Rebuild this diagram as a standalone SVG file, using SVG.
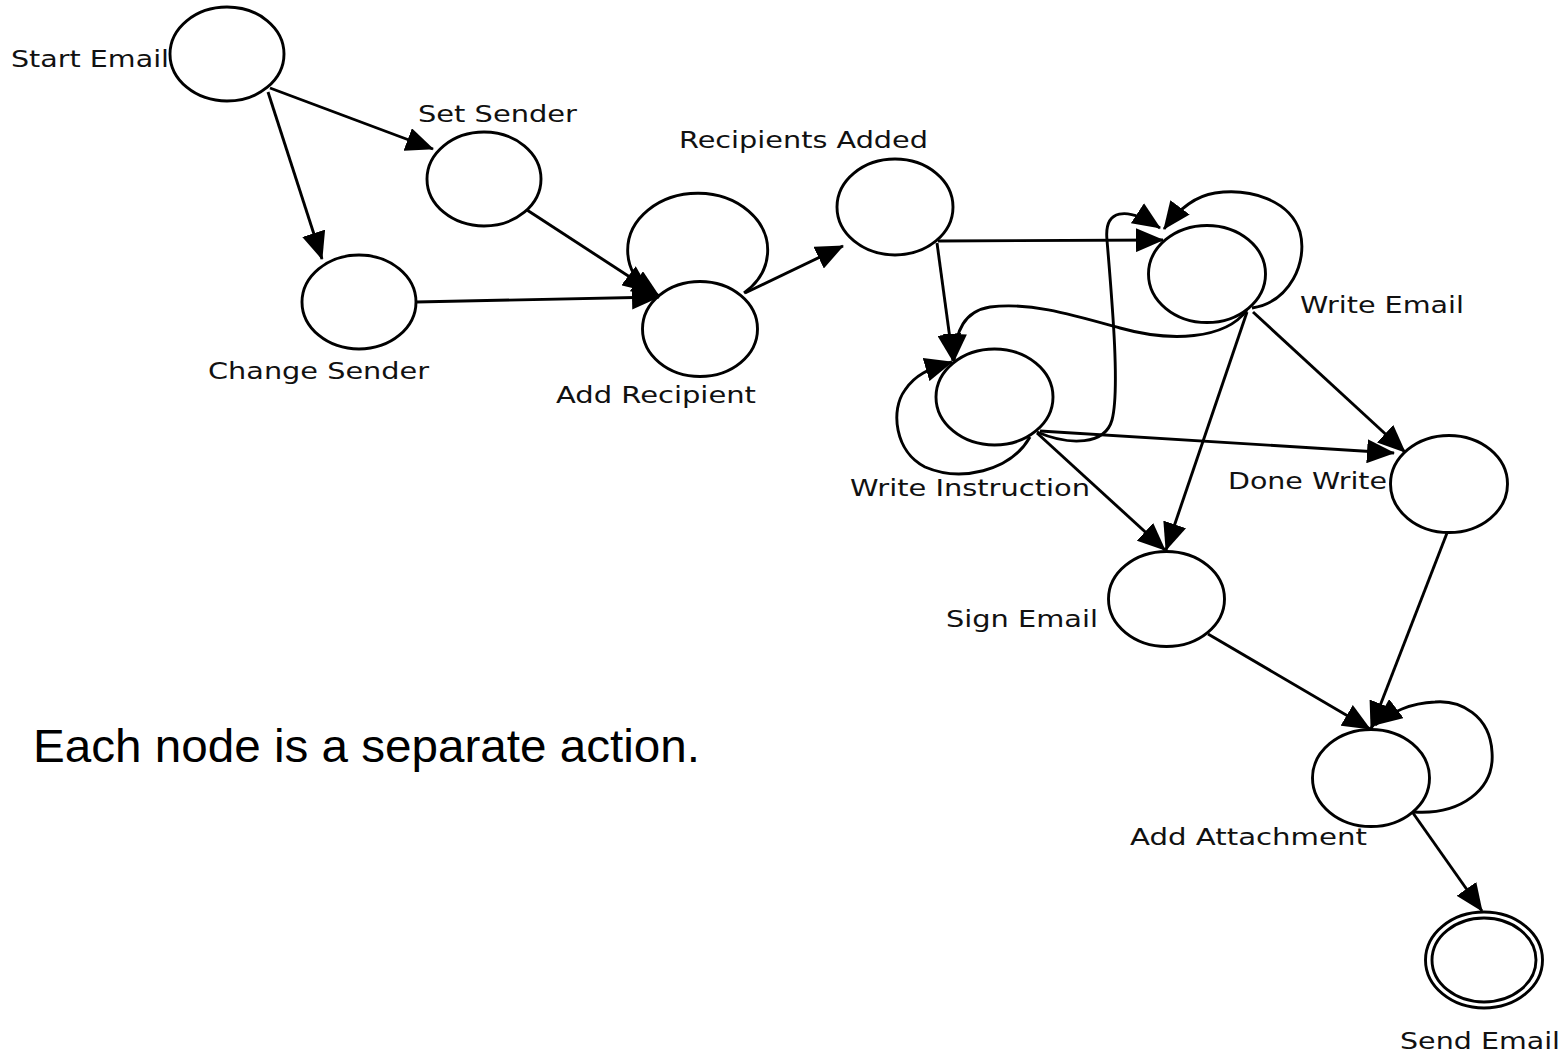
<svg xmlns="http://www.w3.org/2000/svg" width="1568" height="1052" viewBox="0 0 1568 1052">
  <defs>
    <style>
      .state { fill: #ffffff; stroke: #000000; stroke-width: 2.9; }
      .label { font-family: "DejaVu Sans", Verdana, sans-serif; font-size: 23px; fill: #111111; }
      .note { font-family: "Liberation Sans", Arial, Helvetica, sans-serif; font-size: 46px; fill: #000000; }
      .edge { fill: none; stroke: #000000; stroke-width: 2.9; marker-end: url(#head); }
    </style>
    <marker id="head" markerUnits="userSpaceOnUse" markerWidth="30" markerHeight="24" refX="27" refY="12" orient="auto">
      <path d="M0,0 L28,12 L0,24 Z" fill="#000000"/>
    </marker>
  </defs>
  <rect width="1568" height="1052" fill="#ffffff"/>

  <!-- states -->
  <g id="start-email">
    <ellipse class="state" cx="227" cy="54" rx="57" ry="47"/>
    <text class="label" x="11" y="67" textLength="158" lengthAdjust="spacingAndGlyphs">Start Email</text>
  </g>
  <g id="set-sender">
    <ellipse class="state" cx="484" cy="179" rx="57" ry="47"/>
    <text class="label" x="418" y="122" textLength="159" lengthAdjust="spacingAndGlyphs">Set Sender</text>
  </g>
  <g id="change-sender">
    <ellipse class="state" cx="359" cy="302" rx="57" ry="47"/>
    <text class="label" x="208" y="379" textLength="221" lengthAdjust="spacingAndGlyphs">Change Sender</text>
  </g>
  <g id="add-recipient">
    <ellipse class="state" cx="700" cy="329" rx="57.5" ry="47.5"/>
    <text class="label" x="556" y="403" textLength="200" lengthAdjust="spacingAndGlyphs">Add Recipient</text>
  </g>
  <g id="recipients-added">
    <ellipse class="state" cx="895" cy="207" rx="58" ry="48"/>
    <text class="label" x="679" y="148" textLength="249" lengthAdjust="spacingAndGlyphs">Recipients Added</text>
  </g>
  <g id="write-email">
    <ellipse class="state" cx="1207" cy="274" rx="58.5" ry="48.5"/>
    <text class="label" x="1300" y="313" textLength="164" lengthAdjust="spacingAndGlyphs">Write Email</text>
  </g>
  <g id="write-instruction">
    <ellipse class="state" cx="994.5" cy="397" rx="58.5" ry="48"/>
    <text class="label" x="850" y="496" textLength="240" lengthAdjust="spacingAndGlyphs">Write Instruction</text>
  </g>
  <g id="done-write">
    <ellipse class="state" cx="1449" cy="484" rx="58.5" ry="48.5"/>
    <text class="label" x="1228" y="489" textLength="159" lengthAdjust="spacingAndGlyphs">Done Write</text>
  </g>
  <g id="sign-email">
    <ellipse class="state" cx="1166.5" cy="599" rx="58" ry="47.5"/>
    <text class="label" x="946" y="627" textLength="152" lengthAdjust="spacingAndGlyphs">Sign Email</text>
  </g>
  <g id="add-attachment">
    <ellipse class="state" cx="1371" cy="778" rx="58.5" ry="48.5"/>
    <text class="label" x="1130" y="845" textLength="237" lengthAdjust="spacingAndGlyphs">Add Attachment</text>
  </g>
  <g id="send-email">
    <ellipse class="state" cx="1484" cy="960" rx="58.5" ry="48"/>
    <ellipse class="state" cx="1484" cy="960" rx="52" ry="42"/>
    <text class="label" x="1400" y="1049" textLength="160" lengthAdjust="spacingAndGlyphs">Send Email</text>
  </g>

  <!-- transitions -->
  <g id="connectors">
    <path class="edge" d="M270,88 L433,149"/>
    <path class="edge" d="M268,92 L322,259"/>
    <path class="edge" d="M527,210 L659,296"/>
    <path class="edge" d="M416,302 L659,297"/>
    <path class="edge" d="M744,293 A70,57 0 1 0 650,292"/>
    <path class="edge" d="M745,293 L843,246"/>
    <path class="edge" d="M938,241 L1163,240"/>
    <path class="edge" d="M937,243 L953,361"/>
    <path class="edge" d="M1247,310 C1225,340 1170,342 1120,328 C1070,314 1030,302 990,307 C965,311 955,330 954,361"/>
    <path class="edge" d="M1037,432 C1070,446 1105,445 1112,420 C1120,390 1112,300 1107,240 C1104,210 1125,205 1160,228"/>
    <path class="edge" d="M1252,308 C1290,302 1308,262 1300,232 C1290,200 1250,188 1215,193 C1195,196 1178,210 1164,229"/>
    <path class="edge" d="M1030,437 C1010,472 960,482 925,467 C895,452 890,410 905,390 C915,375 928,369 952,362"/>
    <path class="edge" d="M1040,431 L1394,453"/>
    <path class="edge" d="M1253,312 L1405,452"/>
    <path class="edge" d="M1037,433 L1165,550"/>
    <path class="edge" d="M1247,312 L1166,550"/>
    <path class="edge" d="M1208,634 L1370,729"/>
    <path class="edge" d="M1447,533 L1371,729"/>
    <path class="edge" d="M1414,812 C1460,815 1495,790 1492,752 C1490,715 1460,700 1435,702 C1410,703 1392,712 1375,725"/>
    <path class="edge" d="M1413,813 L1482,911"/>
  </g>

  <text class="note" x="33" y="762" textLength="667" lengthAdjust="spacingAndGlyphs">Each node is a separate action.</text>
</svg>
